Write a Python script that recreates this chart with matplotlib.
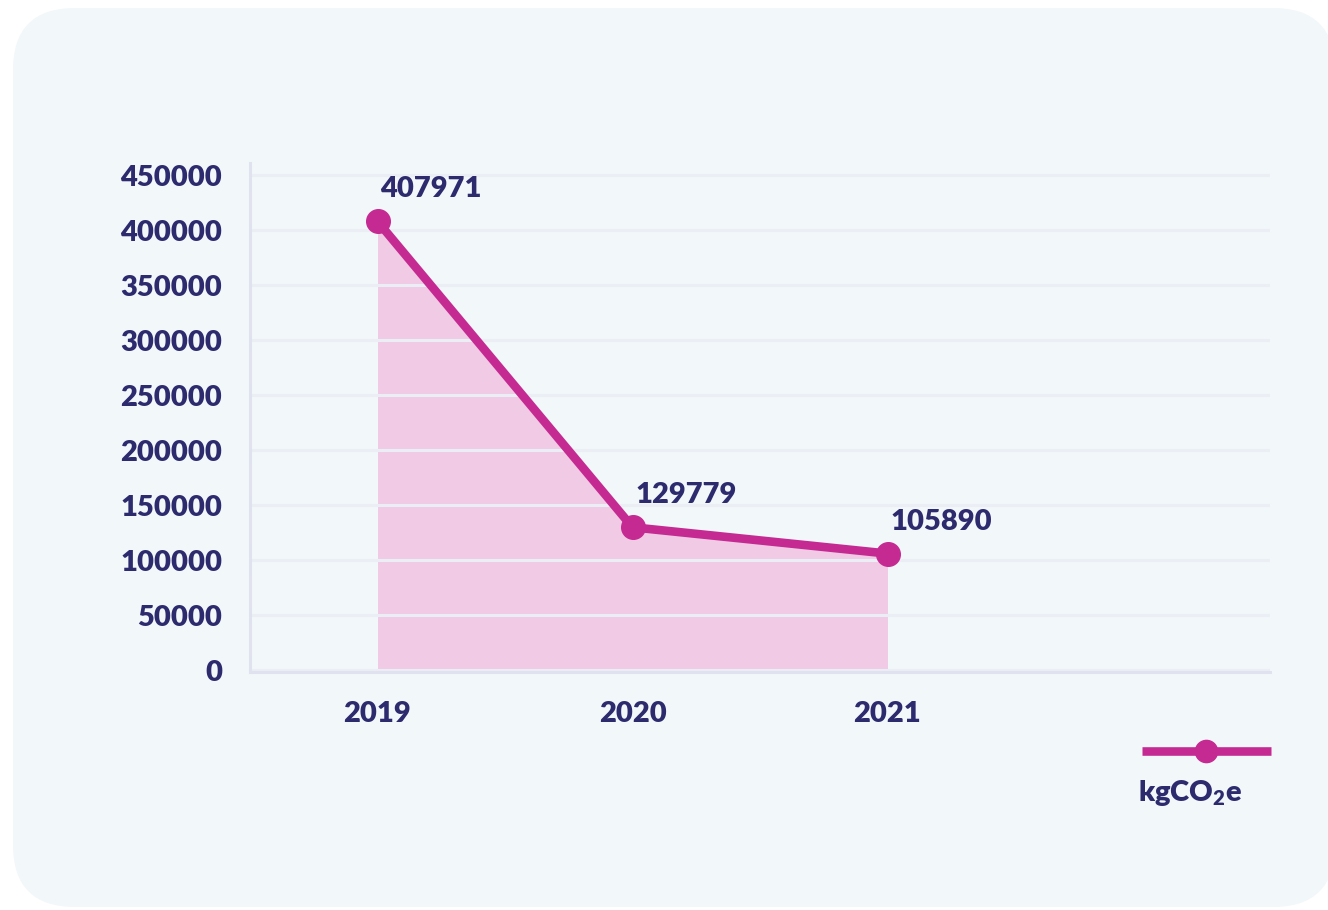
import matplotlib
matplotlib.use("Agg")
import matplotlib.pyplot as plt
import matplotlib.patches as mpatches
from matplotlib.lines import Line2D
from matplotlib import font_manager as fm

years = ["2019", "2020", "2021", ""]
values = [407971, 129779, 105890]
yticks = [0, 50000, 100000, 150000, 200000, 250000, 300000, 350000, 400000, 450000]
series_name = "kgCO$_2$e"

NAVY = "#2d2a6e"
MAG = "#c52a92"
PINK = "#f1cbe5"
BG = "#f2f7fa"
GRID = "#eceef6"
SPINE = "#e0e3ef"

print(sorted({(f.name, f.weight) for f in fm.fontManager.ttflist if f.name == "Lato"}))

plt.rcParams["font.family"] = ["Lato", "DejaVu Sans"]
plt.rcParams["mathtext.fontset"] = "custom"
plt.rcParams["mathtext.rm"] = "Lato:weight=heavy"
plt.rcParams["mathtext.default"] = "rm"
W = "heavy"
FS = 21

fig = plt.figure(figsize=(13.28, 9.10), dpi=100, facecolor="white")
bg = mpatches.FancyBboxPatch((13, 3), 1322, 899,
                             boxstyle="round,pad=0,rounding_size=62",
                             transform=None, facecolor=BG, edgecolor="none", zorder=-5)
fig.patches.append(bg)

ax = fig.add_axes([250/1328, 1-672/910, 1020/1328, (672-163)/910])
ax.set_zorder(2)
ax.set_facecolor("none")
x = list(range(len(values)))
ax.fill_between(x, values, 0, color=PINK, linewidth=0, zorder=1)
for t in yticks:
    ax.axhline(t, color=GRID, linewidth=2.2, zorder=2)
ax.plot(x, values, color=MAG, linewidth=6.2, marker="o", markersize=17,
        solid_capstyle="butt", zorder=4)
for xi, v in zip(x, values):
    ax.annotate(f"{v}", (xi, v), xytext=(2, 23), textcoords="offset points",
                ha="left", va="center", fontsize=FS, fontweight=W, color=NAVY, zorder=5)

ax.set_xlim(-0.5, len(years) - 0.5)
ax.set_ylim(-1800, 461000)
ax.set_xticks(range(len(years)))
ax.set_xticklabels(years)
ax.set_yticks(yticks)
ax.set_yticklabels([str(t) for t in yticks])
ax.tick_params(axis="both", length=0, labelsize=FS, colors=NAVY)
ax.tick_params(axis="y", pad=20)
ax.tick_params(axis="x", pad=21)
for lab in ax.get_xticklabels() + ax.get_yticklabels():
    lab.set_fontweight(W)
for s in ["top", "right"]:
    ax.spines[s].set_visible(False)
for s in ["left", "bottom"]:
    ax.spines[s].set_color(SPINE)
    ax.spines[s].set_linewidth(2.2)
    ax.spines[s].set_zorder(3)

# legend
fig.lines.append(Line2D([1142/1328, 1271/1328], [1-751/910, 1-751/910],
                        transform=fig.transFigure, color=MAG, linewidth=6.2,
                        solid_capstyle="butt", zorder=3))
fig.lines.append(Line2D([1206/1328], [1-751/910], transform=fig.transFigure,
                        color=MAG, marker="o", markersize=16, linestyle="none", zorder=3))
fig.text(1190/1328, 1-793/910, series_name, ha="center", va="center",
         fontsize=FS, fontweight=W, color=NAVY, zorder=3)

fig.savefig("out.png", dpi=100, facecolor="white")
